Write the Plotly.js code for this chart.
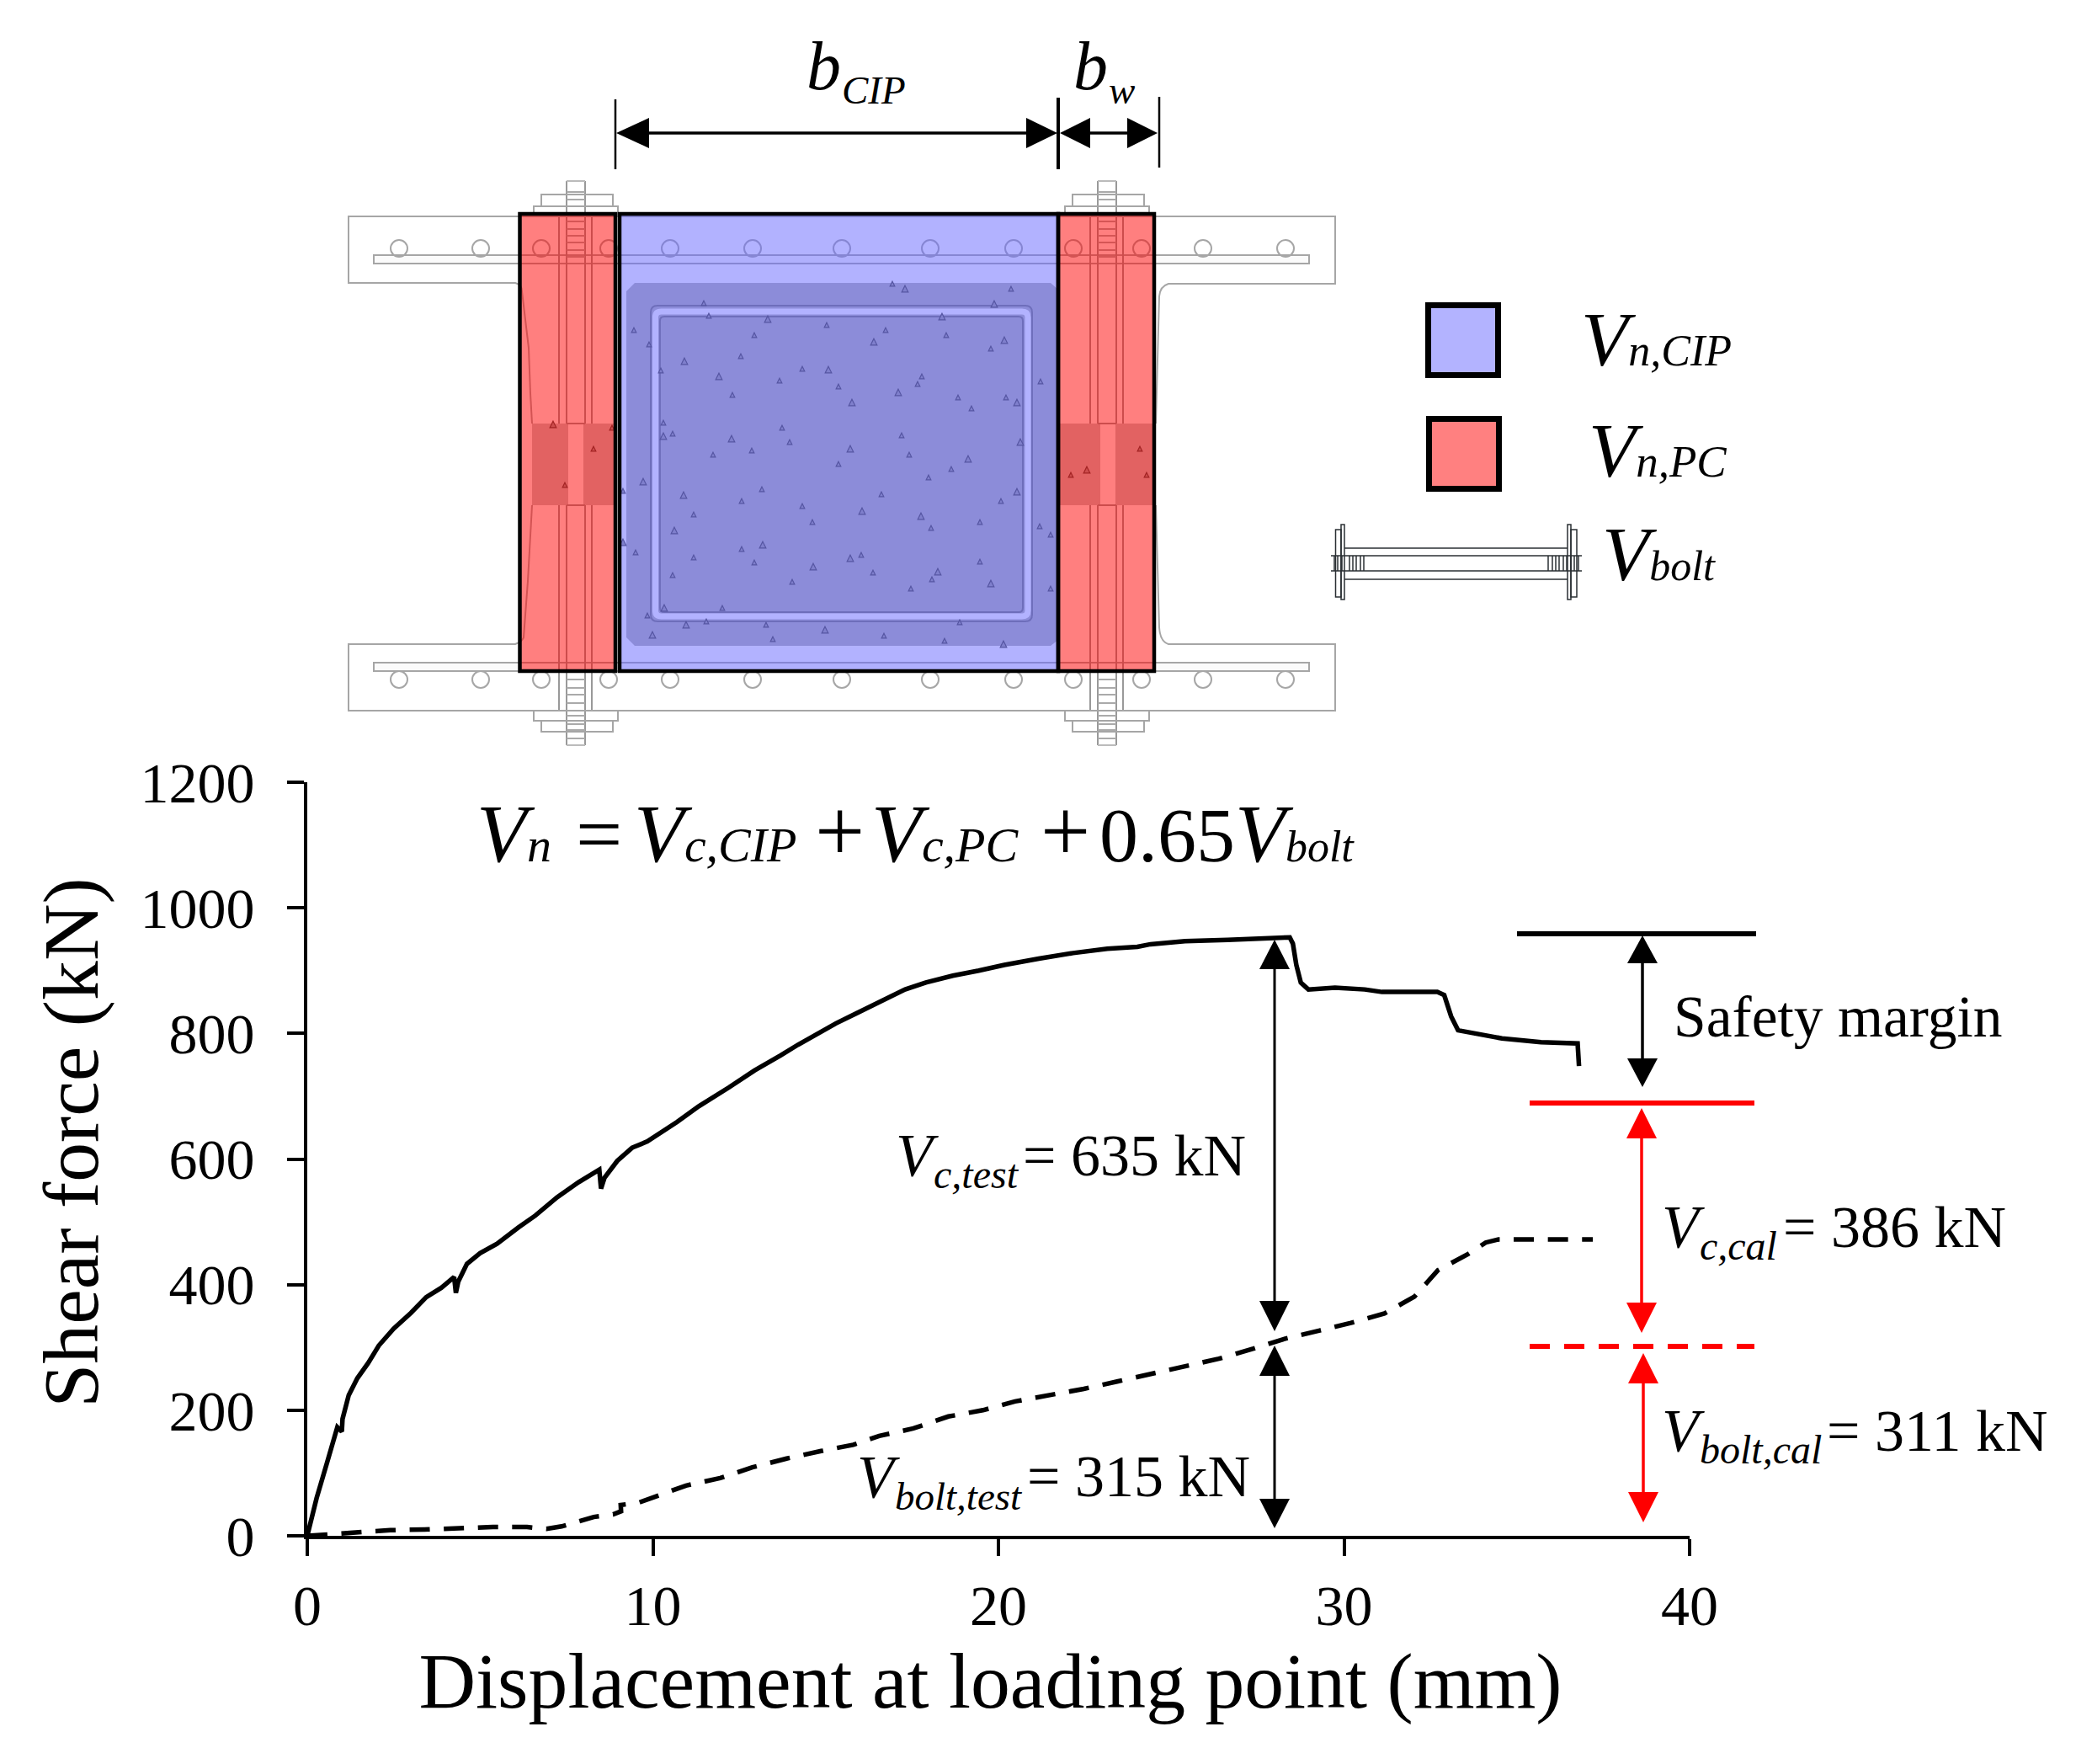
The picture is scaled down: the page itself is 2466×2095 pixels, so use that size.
<!DOCTYPE html>
<html>
<head>
<meta charset="utf-8">
<script src="https://cdn.plot.ly/plotly-3.0.1.min.js"></script>
<style>html,body{margin:0;padding:0;background:#fff}#chart{width:2466px;height:2095px}</style>
</head>
<body>
<div id="chart"></div>
<script>
// ---------- series ----------
const shearTotalX = [0,0.27,0.58,0.87,1.0,1.02,1.2,1.45,1.76,2.07,2.5,3.0,3.44,3.88,4.25,4.3,4.37,4.62,5.0,5.49,6.11,6.6,7.23,7.85,8.45,8.5,8.6,8.97,9.4,9.84,10.7,11.33,12.2,12.94,13.7,14.2,15.3,16.2,16.7,17.3,17.9,18.68,19.43,20.17,21.17,22.16,23.15,24.02,24.4,25.4,26.63,27.75,28.43,28.52,28.62,28.75,28.97,29.74,30.6,31.1,32.7,32.9,33.1,33.3,34.57,35.7,36.76,36.8];
const shearTotalY = [0,60,118,173,166,186,224,251,275,303,330,355,380,395,412,387,405,433,450,465,491,510,539,563,583,553,570,597,618,628,659,684,714,741,765,782,816,840,854,870,881,892,900,909,919,928,935,938,942,947,949,952,953,943,909,881,870,873,870,866,866,861,827,805,792,786,784,748];
const shearBoltX = [0,1.4,2.4,3.4,4.37,5.37,6.36,6.92,7.36,8.29,8.85,9.08,9.07,9.6,10.96,11.95,12.88,13.87,14.87,15.8,16.55,17.54,18.55,19.55,20.48,21.47,22.47,23.46,24.45,25.45,26.38,27.38,28.3,29.3,30.2,31.17,32.04,32.72,33.6,34.1,34.47,37.2];
const shearBoltY = [0,5,9,10,12,14,14,11,15,30,34,39,49,53,80,92,109,123,135,145,159,171,190,200,214,224,234,246,258,270,282,298,314,327,339,354,381,423,449,467,472,472];
const xTicks = [0,10,20,30,40];
const yTicks = [0,200,400,600,800,1000,1200];
const xAxisTitle = 'Displacement at loading point (mm)';
const yAxisTitle = 'Shear force (kN)';

// ---------- page geometry ----------
const W = 2466, H = 2095, SERIF = '"Liberation Serif","Times New Roman",serif';
const PX = x => x / W, PY = y => 1 - y / H;
const AX = {l:365, r:2007, t:929, b:1824};

const shapes = [];
const P = {xref:'paper', yref:'paper'};
function path(d, line, extra){
  const s = d.map(seg => {
    const c = seg[0], n = seg.slice(1);
    const v = n.map((q,i)=> i%2===0 ? PX(q).toFixed(5) : PY(q).toFixed(5));
    let out = c; for(let i=0;i<v.length;i+=2) out += (i? ' ':'') + v[i] + ',' + v[i+1];
    return out;
  }).join(' ');
  shapes.push(Object.assign({type:'path', path:s, line:line||{width:0}}, P, extra||{}));
}
function rect(x0,y0,x1,y1,line,fill,opacity){
  const o = Object.assign({type:'rect',x0:PX(x0),x1:PX(x1),y0:PY(y0),y1:PY(y1),line:line||{width:0}},P);
  if(fill) o.fillcolor = fill; if(opacity!==undefined) o.opacity = opacity;
  shapes.push(o);
}
function seg(x0,y0,x1,y1,color,width,dash){
  shapes.push(Object.assign({type:'line',x0:PX(x0),x1:PX(x1),y0:PY(y0),y1:PY(y1),line:{color,width,dash:dash||'solid'}},P));
}
function circ(cx,cy,r,color){
  shapes.push(Object.assign({type:'circle',x0:PX(cx-r),x1:PX(cx+r),y0:PY(cy-r),y1:PY(cy+r),line:{color,width:2}},P));
}
function tri(pts,color){ path([['M',pts[0],pts[1]],['L',pts[2],pts[3]],['L',pts[4],pts[5],],['Z']],{width:0},{fillcolor:color}); }
function vArrow(x,tipT,baseT,baseB,tipB,color,lw){
  seg(x,baseT,x,baseB,color,lw);
  const hw=18;
  if(tipT!==null) tri([x,tipT,x-hw,baseT,x+hw,baseT],color);
  if(tipB!==null) tri([x,tipB,x-hw,baseB,x+hw,baseB],color);
}
function hArrow(tipL,baseL,baseR,tipR,y,color,lw){
  seg(baseL,y,baseR,y,color,lw);
  const hh=18;
  tri([tipL,y,baseL,y-hh,baseL,y+hh],color);
  tri([tipR,y,baseR,y-hh,baseR,y+hh],color);
}
function roundRect(x0,y0,x1,y1,r,line){
  path([['M',x0+r,y0],['L',x1-r,y0],['Q',x1,y0,x1,y0+r],['L',x1,y1-r],['Q',x1,y1,x1-r,y1],['L',x0+r,y1],['Q',x0,y1,x0,y1-r],['L',x0,y0+r],['Q',x0,y0,x0+r,y0],['Z']],line);
}

// ---------- cross-section drawing ----------
const G = '#a6a6a6', GW = 2;
path([['M',754,336],['L',1248,336],['L',1257,344],['L',1257,760],['L',1248,767],['L',754,767],['L',744,757],['L',744,346],['Z']],{width:0},{fillcolor:'#b3b3b3'});
roundRect(773,363,1226,738,8,{color:'#777',width:2});
roundRect(778.5,370,1221,732,7,{color:'#ffffff',width:7});
roundRect(784,376,1215,727,5,{color:'#777',width:2});
[[632,675],[693,733],[1259,1307],[1325,1372]].forEach(b=>rect(b[0],503,b[1],600,null,'#c4c4c4'));
// flanges
path([['M',613,257],['L',414,257],['L',414,336],['L',612,336],['Q',620,338,620,346],['L',628,413],['L',630,467],['L',632,503]],{color:G,width:GW});
path([['M',632,600],['L',627,690],['L',622,757],['Q',620,762,612,765],['L',414,765],['L',414,844],['L',1586,844],['L',1586,765],['L',1388,765],['Q',1378,762,1377,745],['L',1373,600]],{color:G,width:GW});
path([['M',1373,503],['L',1377,352],['Q',1378,340,1388,337],['L',1586,337],['L',1586,257],['L',613,257]],{color:G,width:GW});
rect(444,303,1555,313,{color:G,width:GW},'#fbfbfb');
rect(444,787,1555,797,{color:G,width:GW},'#fbfbfb');
const boltHoleX = [474,571,643,723,796,894,1000,1105,1204,1275,1356,1429,1527];
boltHoleX.forEach(x=>{circ(x,295,10,G);circ(x,807,10,G);});
[0,631].forEach(dx=>{
  [664,703].forEach(x=>{seg(x+dx,257,x+dx,503,'#999',GW);seg(x+dx,600,x+dx,844,'#999',GW);});
  [673,695].forEach(x=>{seg(x+dx,215,x+dx,503,'#999',GW);seg(x+dx,600,x+dx,885,'#999',GW);});
  seg(673+dx,215,695+dx,215,'#bbb',GW); seg(673+dx,885,695+dx,885,'#bbb',GW); seg(673+dx,503,695+dx,503,'#999',GW); seg(673+dx,600,695+dx,600,'#999',GW);
  [228,237,263,272,280,288,297,305].forEach(y=>seg(673+dx,y,695+dx,y,'#aaa',GW));
  [807,817,825,835,850,860,867,877].forEach(y=>seg(673+dx,y,695+dx,y,'#aaa',GW));
  rect(643+dx,231,728+dx,245,{color:G,width:GW});
  rect(634+dx,245,734+dx,257,{color:G,width:GW});
  rect(634+dx,844,734+dx,856,{color:G,width:GW});
  rect(643+dx,856,728+dx,869,{color:G,width:GW});
});
const speckX = [1075,1060,1201,1181,836,842,912,982,1052,1119,1124,896,1038,753,771,1193,1177,880,813,785,953,984,1095,1090,854,926,996,1067,1236,870,1012,1138,1195,1208,1154,788,788,799,929,869,938,1071,1212,847,893,1010,1080,996,1150,1130,1103,764,740,905,812,881,1047,1208,1189,953,1024,824,965,1094,1164,1106,801,1235,1248,740,755,881,906,824,896,1010,1023,1164,966,799,1037,1114,1107,941,1177,1082,1248,789,858,769,815,839,910,980,1050,918,775,1122,1140,1192,705,671,657,727,1272,1291,1354,1362];
const speckY = [343,337,343,361,360,375,379,386,392,376,398,398,406,392,409,404,414,423,429,440,438,439,447,456,447,452,459,466,453,469,478,472,472,478,485,502,518,515,508,521,525,517,525,540,535,533,540,551,545,557,567,572,583,581,588,595,587,584,595,601,607,611,620,613,620,627,630,625,635,644,656,652,647,662,668,663,659,667,673,683,680,679,688,691,693,699,699,722,722,731,742,738,742,748,755,759,754,761,739,765,533,576,504,508,564,558,533,564];
speckX.forEach((x,i)=>{
  const y = speckY[i], r = i%3===0 ? 3.8 : 2.8;
  path([['M',x,y-r],['L',x+r,y+r],['L',x-r,y+r],['Z']],{color:'#444',width:1.2},{fillcolor:'#999'});
});
rect(734.5,254,1257,797,null,'#6666ff',0.5);
rect(617,254,731,797,null,'#ff0000',0.5);
rect(1257,254,1371,797,null,'#ff0000',0.5);
[[617.5,254,731,797],[736,254,1257,797],[1257,254,1371,797]].forEach(b=>rect(b[0],b[1],b[2],b[3],{color:'#000',width:4.5}));
seg(731,118,731,201,'#000',2.5); seg(1257,116,1257,201,'#000',4); seg(1377,115,1377,199,'#000',2.5);
hArrow(732,771,1219,1256,158,'#000',3.5);
hArrow(1259,1295,1339,1375,158,'#000',3.5);

// ---------- legend keys ----------
rect(1696.5,362.5,1779.5,445.5,{color:'#000',width:7},'#b3b3ff');
rect(1697.5,497.5,1780.5,580.5,{color:'#000',width:7},'#ff8080');
const IC='#2a2f33';
seg(1581,660,1879,660,IC,1.5); seg(1581,678,1879,678,IC,1.5);
seg(1597,651,1862,651,IC,1.5); seg(1597,688,1862,688,IC,1.5);
rect(1593,623,1597,712,{color:IC,width:1.5});
rect(1586.5,629,1593,709,{color:IC,width:1.5});
rect(1862,623,1866,712,{color:IC,width:1.5});
rect(1866,629,1873,709,{color:IC,width:1.5});
[1585,1589,1594,1603,1607,1611,1616,1620,1839,1844,1848,1852,1857,1861,1866,1870,1875].forEach(x=>seg(x,660,x,678,IC,1.5));

// ---------- annotation lines on the graph ----------
seg(1802,1109,2086,1109,'#000',6);
seg(1817,1310,2084,1310,'#ff0000',6);
seg(1817,1599,2084,1599,'#ff0000',6,'24px,17px');
vArrow(1514,1116,1151,1545,1581,'#000',3);
vArrow(1514,1598,1634,1780,1815,'#000',3);
vArrow(1951,1111,1144,1257,1291,'#000',3.5);
vArrow(1950,1316,1352,1547,1583,'#ff0000',3.5);
vArrow(1952,1607,1643,1772,1808,'#ff0000',3.5);

// ---------- text ----------
const annotations = [];
function T(x,base,text,size){
  annotations.push({xref:'paper',yref:'paper',x:PX(x),y:PY(base+0.216*size),xanchor:'left',yanchor:'bottom',
    showarrow:false,borderpad:0,borderwidth:0,align:'left',text,font:{family:SERIF,size,color:'#000'}});
}
// letter and index on one baseline, as one text
function S(x,base,pre,index,size,indexSize){
  annotations.push({xref:'paper',yref:'paper',x:PX(x),y:PY(base-0.891*size),xanchor:'left',yanchor:'top',
    showarrow:false,borderpad:0,borderwidth:0,align:'left',
    text:pre+'<i><span style="font-size:'+indexSize+'px">'+index+'</span></i>',font:{family:SERIF,size,color:'#000'}});
}
// letter with a lowered index placed just behind it
function L(x,base,main,index,size,indexSize,drop,glyphW){
  T(x,base,'<i>'+main+'</i>',size);
  T(x+glyphW*size+1,base+drop,'<i>'+index+'</i>',indexSize);
}
L(958,106,'b','CIP',82,47,17,0.5);
L(1275,106,'b','w',82,47,17,0.5);
S(1878,434,'<i>V</i>','n,CIP',92,52);
S(1887,566,'<i>V</i>','n,PC',92,53);
S(1903,689,'<i>V</i>','bolt',92,50);
// capacity equation
S(566,1023,'<i>V</i>','n',98,58);
T(684,1023,'=',98);
S(753,1023,'<i>V</i>','c,CIP',98,58);
T(968,1023,'+',105);
S(1035,1023,'<i>V</i>','c,PC',98,58);
T(1236,1023,'+',105);
S(1306,1023,'<span style="font-size:92px">0.65</span><i>V</i>','bolt',98,52);
// measured and calculated components
L(1064,1396,'V','c,test',72,48,15,0.611);   T(1215,1396,'= 635 kN',70);
L(1018,1778,'V','bolt,test',72,47,15,0.611);T(1220,1777,'= 315 kN',70);
L(1974,1481,'V','c,cal',72,48,15,0.611);    T(2118,1481,'= 386 kN',70);
L(1974,1723,'V','bolt,cal',72,48,15,0.611); T(2170,1723,'= 311 kN',70);
T(1988,1231,'Safety margin',69.5);

// ---------- chart ----------
const traces = [
  {type:'scatter',mode:'lines',name:'Total shear force',x:shearTotalX,y:shearTotalY,
   line:{color:'#000',width:5.5,shape:'linear'},cliponaxis:false,showlegend:false,hoverinfo:'skip'},
  {type:'scatter',mode:'lines',name:'Bolt shear force',x:shearBoltX,y:shearBoltY,
   line:{color:'#000',width:5.5,dash:'24px,16.6px'},cliponaxis:false,showlegend:false,hoverinfo:'skip'}
];
const axisCommon = {
  showgrid:false,zeroline:false,showline:true,linecolor:'#000',linewidth:4,mirror:false,
  ticks:'outside',ticklen:20,tickwidth:4,tickcolor:'#000',
  tickfont:{family:SERIF,size:68,color:'#000'},automargin:false,fixedrange:true
};
const layout = {
  width:W,height:H,margin:{l:0,r:0,t:0,b:0,pad:0},
  paper_bgcolor:'#fff',plot_bgcolor:'rgba(0,0,0,0)',showlegend:false,
  font:{family:SERIF,color:'#000'},
  xaxis:Object.assign({},axisCommon,{domain:[AX.l/W,AX.r/W],range:[0,40],tickmode:'array',tickvals:xTicks,ticktext:xTicks.map(String),
    ticklabelstandoff:0,
    title:{text:xAxisTitle+'<span style="font-size:76px">\u00a0</span>',font:{family:SERIF,size:93.7,color:'#000'},standoff:17}}),
  yaxis:Object.assign({},axisCommon,{domain:[1-AX.b/H,1-AX.t/H],range:[0,1200],tickmode:'array',tickvals:yTicks,ticktext:yTicks.map(String),
    ticklabelstandoff:25,
    title:{text:'<span style="font-size:78px">\u00a0\u00a0</span>'+yAxisTitle,font:{family:SERIF,size:93.7,color:'#000'},standoff:20}}),
  shapes,annotations
};
Plotly.newPlot('chart',traces,layout,{displayModeBar:false,responsive:false});
</script>
</body>
</html>
